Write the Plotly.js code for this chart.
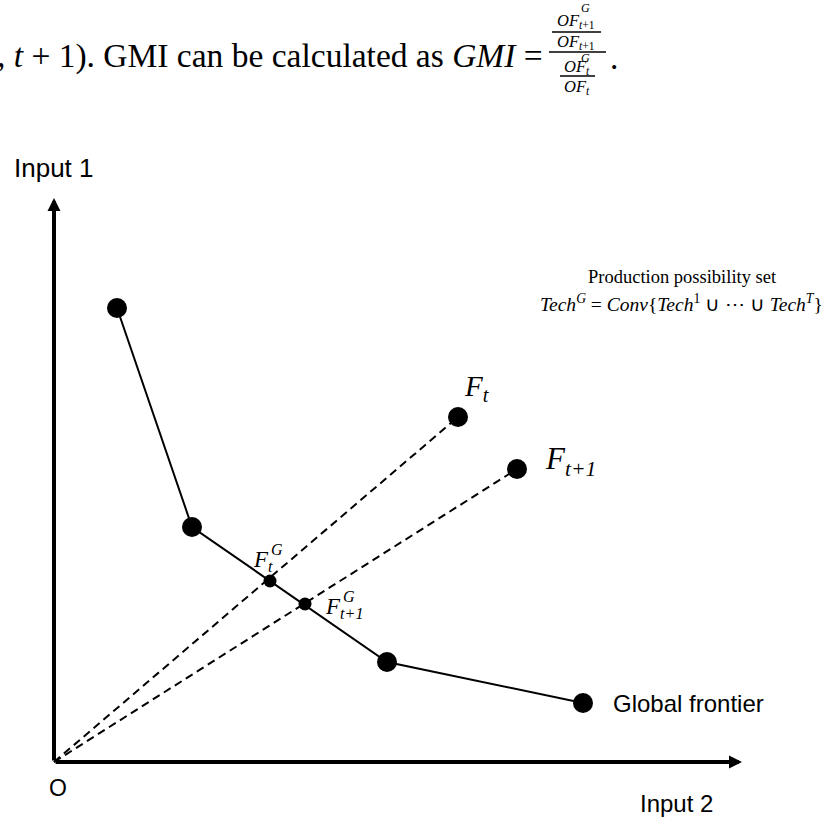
<!DOCTYPE html>
<html><head><meta charset="utf-8">
<script src="https://cdn.plot.ly/plotly-3.0.1.min.js"></script>
<style>html,body{margin:0;padding:0;background:#fff}#chart{width:826px;height:820px}</style>
</head><body><div id="chart"></div>
<script>
// Global frontier vertices (Input 2, Input 1) in diagram units
const frontierX = [6.3, 13.8, 33.3, 52.9];
const frontierY = [45.4, 23.5, 10.0, 5.9];
// Observed DMU positions F_t and F_{t+1}
const obsLabels = ['F_t', 'F_{t+1}'];
const obsX = [40.4, 46.3];
const obsY = [34.5, 29.3];
// Radial projections onto the global frontier
const projLabels = ['F_t^G', 'F_{t+1}^G'];
const projX = [21.6, 25.1];
const projY = [18.1, 15.8];
// Axis extents
const axisEndX = 68.8;
const axisEndY = 56.4;
const axisLabels = ['Input 2', 'Input 1'];

const W = 826, H = 820;
const P = (px, py) => ({x: px / W, y: 1 - py / H});
const serif = 'Liberation Serif, Times New Roman, serif';
const sans = 'Liberation Sans, Arial, sans-serif';

const traces = [];
for (let i = 0; i < obsX.length; i++) {
  traces.push({x: [0, obsX[i]], y: [0, obsY[i]], mode: 'lines', type: 'scatter',
    line: {color: '#000', width: 2, dash: '8px,5px'}, hoverinfo: 'skip'});
}
traces.push({x: frontierX, y: frontierY, mode: 'lines+markers', type: 'scatter',
  line: {color: '#000', width: 2}, marker: {color: '#000', size: 20}});
traces.push({x: obsX, y: obsY, mode: 'markers', type: 'scatter',
  marker: {color: '#000', size: 20}});
traces.push({x: projX, y: projY, mode: 'markers', type: 'scatter',
  marker: {color: '#000', size: 13}});

function txt(px, py, text, size, font, xa, ya) {
  const p = P(px, py);
  return {xref: 'paper', yref: 'paper', x: p.x, y: p.y, text: text, showarrow: false,
    xanchor: xa || 'left', yanchor: ya || 'middle', font: {family: font, size: size, color: '#000'}};
}

const ann = [];
ann.push({x: axisEndX, y: 0, ax: 0, ay: 0, xref: 'x', yref: 'y', axref: 'x', ayref: 'y', text: '',
  showarrow: true, arrowhead: 2, arrowsize: 0.65, arrowwidth: 4, arrowcolor: '#000'});
ann.push({x: 0, y: axisEndY, ax: 0, ay: 0, xref: 'x', yref: 'y', axref: 'x', ayref: 'y', text: '',
  showarrow: true, arrowhead: 2, arrowsize: 0.65, arrowwidth: 4, arrowcolor: '#000'});
ann.push(txt(12, 168, axisLabels[1], 26, sans));
ann.push(txt(638, 803, axisLabels[0], 24, sans));
ann.push(txt(47, 788, 'O', 23, sans));
ann.push(txt(611, 703, 'Global frontier', 24, sans));

// F labels
ann.push(txt(462, 388, '<i>F<sub>t</sub></i>', 29, serif));
ann.push(txt(543, 461, '<i>F<sub>t+1</sub></i>', 31, serif));
ann.push(txt(251, 561, '<i>F<sub>t</sub></i>', 23, serif));
ann.push(txt(269, 549, '<i>G</i>', 16, serif));
ann.push(txt(323, 608, '<i>F<sub>t+1</sub></i>', 23, serif));
ann.push(txt(341, 596, '<i>G</i>', 16, serif));

// production possibility set
ann.push(txt(682, 277, 'Production possibility set', 18.5, serif, 'center'));
ann.push(txt(681, 303, '<i>Tech<sup>G</sup></i> = <i>Conv</i>{<i>Tech</i><sup>1</sup> ∪ ⋯ ∪ <i>Tech<sup>T</sup></i>}', 19.5, serif, 'center'));

// top sentence with nested fraction
ann.push(txt(-5, 56, ', <i>t</i> + 1). GMI can be calculated as <i>GMI</i> =', 33.5, serif));
// numerator of outer fraction: OF^G_{t+1} / OF_{t+1}
ann.push(txt(576, 21, '<i>OF</i><sub><i>t</i>+1</sub>', 16.5, serif, 'center'));
ann.push(txt(585, 8, '<i>G</i>', 12, serif, 'center'));
ann.push(txt(576, 42, '<i>OF</i><sub><i>t</i>+1</sub>', 16.5, serif, 'center'));
// denominator of outer fraction: OF^G_t / OF_t
ann.push(txt(577, 67, '<i>OF</i><sub><i>t</i></sub>', 16.5, serif, 'center'));
ann.push(txt(585, 58, '<i>G</i>', 12, serif, 'center'));
ann.push(txt(577, 87, '<i>OF</i><sub><i>t</i></sub>', 16.5, serif, 'center'));
ann.push(txt(608, 57, '.', 33.5, serif));

const shapes = [
  {type: 'line', xref: 'paper', yref: 'paper', x0: 552/W, x1: 601/W, y0: 1-32/H, y1: 1-32/H, line: {color: '#000', width: 1.5}},
  {type: 'line', xref: 'paper', yref: 'paper', x0: 549/W, x1: 606/W, y0: 1-52/H, y1: 1-52/H, line: {color: '#000', width: 1.5}},
  {type: 'line', xref: 'paper', yref: 'paper', x0: 560/W, x1: 595/W, y0: 1-76/H, y1: 1-76/H, line: {color: '#000', width: 1.5}}
];

const layout = {
  width: W, height: H, margin: {l: 0, r: 0, t: 0, b: 0},
  paper_bgcolor: '#fff', plot_bgcolor: '#fff', showlegend: false,
  xaxis: {range: [-5.4, 77.2], visible: false, fixedrange: true},
  yaxis: {range: [-5.8, 76.2], visible: false, fixedrange: true},
  annotations: ann, shapes: shapes
};
Plotly.newPlot('chart', traces, layout, {staticPlot: true});
</script>
</body></html>
